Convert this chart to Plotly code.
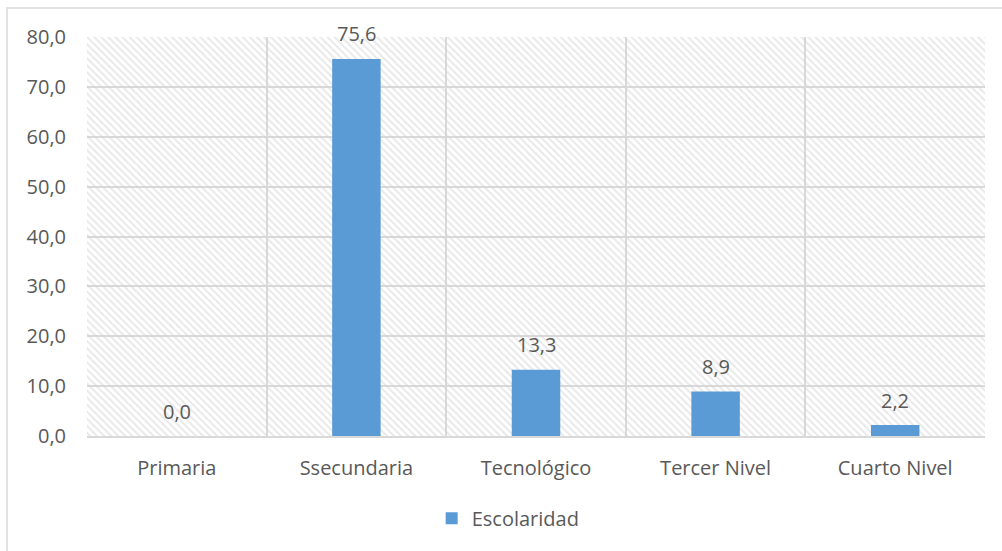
import plotly.graph_objects as go

# Nivel de escolaridad (%)
categories = ["Primaria", "Ssecundaria", "Tecnológico", "Tercer Nivel", "Cuarto Nivel"]
values = [0.0, 75.6, 13.3, 8.9, 2.2]
series_name = "Escolaridad"
y_ticks = [0, 10, 20, 30, 40, 50, 60, 70, 80]
y_max = 80

BAR_COLOR = "#5B9BD5"
GRID = "#d9d9d9"
TEXT = "#595959"
FONT = "Open Sans"
FSIZE = 20

fig = go.Figure()

# Hatched plot background: one full-height patterned cell per category
fig.add_trace(go.Bar(
    x=categories,
    y=[y_max] * len(categories),
    width=1,
    marker=dict(
        color="rgba(0,0,0,0)",
        line=dict(width=0),
        pattern=dict(shape="\\", fgcolor="#d2d2d2", bgcolor="rgba(0,0,0,0)",
                     size=5, solidity=0.4),
    ),
    showlegend=False,
    hoverinfo="skip",
))

fig.add_trace(go.Bar(
    x=categories,
    y=values,
    name=series_name,
    width=0.27,
    marker=dict(color=BAR_COLOR, line=dict(width=0)),
))

# Value labels above each bar
for cat, v in zip(categories, values):
    fig.add_annotation(
        x=cat, y=v, text=f"{v:.1f}".replace(".", ","),
        showarrow=False, yshift=25,
        font=dict(family=FONT, size=FSIZE, color=TEXT),
    )

# Outer chart frame
fig.add_shape(
    type="rect", xref="paper", yref="paper",
    x0=-0.0891, x1=1.1, y0=-0.6, y1=1.0727,
    line=dict(color=GRID, width=1.5), fillcolor="rgba(0,0,0,0)",
    layer="below",
)

fig.update_layout(
    width=1002, height=551,
    margin=dict(l=87, r=17, t=37, b=115),
    paper_bgcolor="white", plot_bgcolor="white",
    barmode="overlay",
    separators=",.",
    font=dict(family=FONT, size=FSIZE, color=TEXT),
    showlegend=True,
    legend=dict(
        orientation="h", x=0.469, xanchor="center", y=-0.206, yanchor="middle",
        font=dict(family=FONT, size=FSIZE, color=TEXT),
        itemwidth=30,
    ),
    xaxis=dict(
        type="category", tickson="boundaries",
        showgrid=True, gridcolor=GRID, gridwidth=1.5,
        showline=True, linecolor=GRID, linewidth=2,
        ticks="", ticklabelstandoff=13,
        range=[-0.5, len(categories) - 0.5],
    ),
    yaxis=dict(
        range=[0, y_max], tickvals=y_ticks, tickformat=".1f",
        showgrid=True, gridcolor=GRID, gridwidth=1.5,
        zeroline=False, showline=False,
        ticks="", ticklabelstandoff=20,
    ),
)

fig.write_html("out.html")
